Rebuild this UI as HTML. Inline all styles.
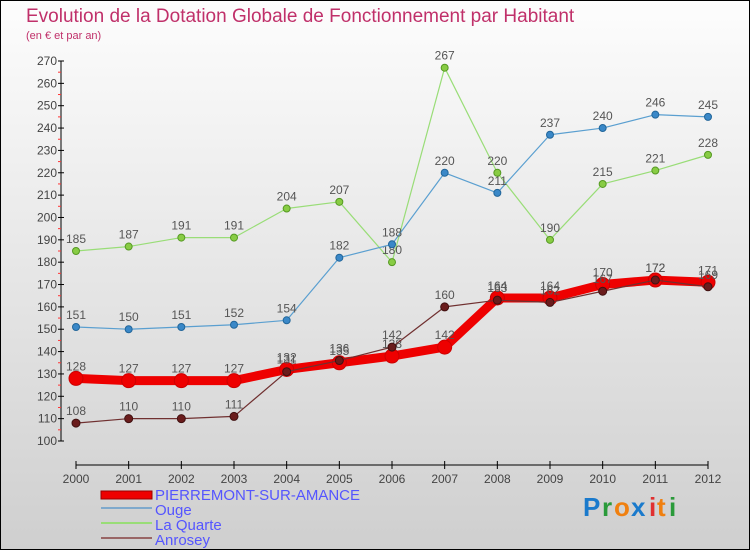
<!DOCTYPE html>
<html><head><meta charset="utf-8"><style>
html,body{margin:0;padding:0}
body{width:750px;height:550px;overflow:hidden;font-family:"Liberation Sans",sans-serif}
#c{position:absolute;left:0;top:0;width:748px;height:548px;border:1px solid #000;background:linear-gradient(#fdfdfd,#cfcfcf)}
</style></head><body>
<div id="c">
<svg id="svg" width="748" height="548" xmlns="http://www.w3.org/2000/svg" style="position:absolute;left:0;top:0">
<text x="25" y="21" font-size="19" fill="#c0306a">Evolution de la Dotation Globale de Fonctionnement par Habitant</text>
<text x="25" y="38" font-size="11" fill="#c0306a">(en € et par an)</text>
<g id="axes"></g><g id="series"></g>
<g>
<rect x="100" y="490" width="51" height="8" fill="#e00" stroke="#900" stroke-width="1"/>
<text x="154" y="499" font-size="15" fill="#5555ff">PIERREMONT-SUR-AMANCE</text>
<line x1="100" y1="507" x2="151" y2="507" stroke="#7fa9cc" stroke-width="2"/>
<text x="154" y="514" font-size="15" fill="#5555ff">Ouge</text>
<line x1="100" y1="522" x2="151" y2="522" stroke="#99dd77" stroke-width="2"/>
<text x="154" y="529" font-size="15" fill="#5555ff">La Quarte</text>
<line x1="100" y1="537" x2="151" y2="537" stroke="#996666" stroke-width="2"/>
<text x="154" y="544" font-size="15" fill="#5555ff">Anrosey</text>
</g>
<g font-size="26" font-weight="bold">
<text x="582" y="515" fill="#1a7acc">P</text><text x="601" y="515" fill="#2a9a3a">r</text><text x="613" y="515" fill="#f08010">o</text><text x="630" y="515" fill="#1a7acc">x</text><text x="648" y="515" fill="#e03030">i</text><text x="656" y="515" fill="#f08010">t</text><text x="668" y="515" fill="#2a9a3a">i</text>
</g>
</svg>
</div>
<script>
const years=[2000,2001,2002,2003,2004,2005,2006,2007,2008,2009,2010,2011,2012];
const pierremont=[128,127,127,127,132,135,138,142,164,164,170,172,171];
const ouge=[151,150,151,152,154,182,188,220,211,237,240,246,245];
const laQuarte=[185,187,191,191,204,207,180,267,220,190,215,221,228];
const anrosey=[108,110,110,111,131,136,142,160,163,162,167,172,169];
const yTicks=[100,110,120,130,140,150,160,170,180,190,200,210,220,230,240,250,260,270];
const NS="http://www.w3.org/2000/svg";
const X=i=>75+i*(707-75)/(years.length-1);
const Y=v=>440-(v-100)*(380/170);
function mk(t,a,p){const e=document.createElementNS(NS,t);for(const k in a)e.setAttribute(k,a[k]);p.appendChild(e);return e;}
const ax=document.getElementById('axes');
const yl=mk('line',{x1:60,y1:Y(270),x2:60,y2:Y(100),stroke:'#000','stroke-width':1},ax);


yTicks.forEach(v=>{
 mk('line',{x1:57,y1:Y(v),x2:63,y2:Y(v),stroke:'#000'},ax);
 if(v<270)mk('line',{x1:57,y1:Y(v+5),x2:60,y2:Y(v+5),stroke:'#f33'},ax);
 const t=mk('text',{x:56,y:Y(v)+4,'font-size':12,fill:'#444','text-anchor':'end'},ax);t.textContent=v;
 
 
});
const xl=mk('line',{x1:X(0),y1:464,x2:X(12),y2:464,stroke:'#000'},ax);


years.forEach((y,i)=>{
 mk('line',{x1:X(i),y1:460,x2:X(i),y2:468,stroke:'#000'},ax);
 const t=mk('text',{x:X(i),y:482,'font-size':12,fill:'#444','text-anchor':'middle'},ax);t.textContent=y;
 
 
});
const sg=document.getElementById('series');
function series(name,vals,color,w,dot,r,stroke){
 const g=mk('g',{},sg);
 
 
 mk('polyline',{points:vals.map((v,i)=>X(i)+','+Y(v)).join(' '),fill:'none',stroke:color,'stroke-width':w,'stroke-linejoin':'round'},g);
 vals.forEach((v,i)=>{
  const c=mk('circle',{cx:X(i),cy:Y(v),r:r,fill:dot,stroke:stroke,'stroke-width':1},g);
  
  
  const t=mk('text',{x:X(i),y:Y(v)-8,'font-size':12,fill:'#555','text-anchor':'middle'},g);t.textContent=v;
 });
}
series('series-la-quarte',laQuarte,'#99dd77',1.2,'#88cc44',3.5,'#559922');
series('series-ouge',ouge,'#5a9fd0',1.2,'#3a88c8',3.5,'#22669a');
series('series-pierremont',pierremont,'#ee0000',9,'#ee0000',7,'#cc0000');
series('series-anrosey',anrosey,'#703030',1.2,'#6a1c1c',4,'#401010');
</script>
</body></html>
